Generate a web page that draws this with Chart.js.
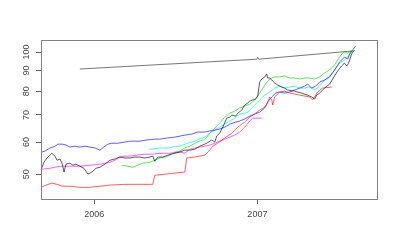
<!DOCTYPE html>
<html><head><meta charset="utf-8">
<script src="https://cdn.jsdelivr.net/npm/chart.js@4/dist/chart.umd.min.js"></script>
<style>html,body{margin:0;padding:0;background:#fff}</style>
</head><body>
<canvas id="c" width="400" height="250"></canvas>
<script>
// tick values
const xTicks = [2006, 2007];
const yTicks = [50, 60, 70, 80, 90, 100];

// series (dates in decimal years, values on a log scale)
const grayT = [2005.912, 2006.831, 2006.996, 2007.002, 2007.008, 2007.583];
const grayV = [90.8, 95.2, 96.0, 97.0, 96.0, 100.6];

const blackT = [2005.674,2005.692,2005.711,2005.729,2005.741,2005.760,2005.772,2005.790,2005.803,2005.815,2005.827,2005.851,2005.870,2005.888,2005.913,2005.937,2005.962,2005.986,2006.010,2006.035,2006.065,2006.096,2006.127,2006.157,2006.188,2006.218,2006.249,2006.280,2006.310,2006.341,2006.359,2006.371,2006.390,2006.420,2006.451,2006.494,2006.525,2006.555,2006.586,2006.616,2006.647,2006.690,2006.720,2006.739,2006.751,2006.769,2006.794,2006.812,2006.831,2006.843,2006.867,2006.880,2006.904,2006.922,2006.941,2006.953,2006.971,2006.990,2007.002,2007.014,2007.026,2007.045,2007.057,2007.063,2007.075,2007.088,2007.106,2007.124,2007.149,2007.167,2007.186,2007.228,2007.271,2007.308,2007.332,2007.351,2007.363,2007.381,2007.412,2007.443,2007.473,2007.492,2007.516,2007.534,2007.547,2007.559,2007.577,2007.595];
const blackV = [51.2,53.5,54.8,55.7,56.3,55.4,54.1,54.5,53.2,50.6,52.9,53.2,52.6,52.9,52.3,51.7,50.0,50.6,51.7,52.0,52.9,54.1,54.5,55.1,54.8,54.8,55.1,55.1,54.8,55.1,55.4,53.8,55.1,55.1,55.7,56.3,56.7,57.3,57.3,57.6,58.6,59.6,60.7,60.0,62.1,63.1,66.1,68.7,69.1,69.9,69.5,70.7,71.9,74.0,74.9,75.7,76.2,76.6,77.9,84.3,85.8,86.8,88.3,86.3,86.3,85.3,83.9,82.9,82.0,81.5,80.6,80.1,79.2,78.3,77.5,76.6,78.3,79.2,81.5,83.4,87.3,89.8,92.4,93.9,92.4,93.9,98.9,101.1];

const redT = [2005.674,2005.705,2005.741,2005.772,2005.803,2005.851,2005.913,2005.974,2006.035,2006.096,2006.188,2006.280,2006.359,2006.371,2006.433,2006.494,2006.555,2006.567,2006.616,2006.647,2006.678,2006.708,2006.727,2006.757,2006.800,2006.843,2006.880,2006.922,2006.953,2006.983,2007.014,2007.045,2007.063,2007.075,2007.088,2007.094,2007.106,2007.137,2007.167,2007.198,2007.228,2007.259,2007.289,2007.320,2007.338,2007.357,2007.369,2007.400,2007.455];
const redV = [46.4,47.0,47.5,47.2,46.7,46.7,46.4,46.4,46.7,47.0,47.2,47.2,47.2,49.7,50.0,50.3,50.6,54.8,55.1,55.4,55.7,57.3,58.6,59.6,61.4,63.1,65.3,67.2,69.1,70.3,71.9,73.2,74.9,77.5,76.2,74.0,77.5,79.7,80.1,79.2,78.8,78.3,77.9,77.5,76.2,78.3,79.7,81.5,82.0];

const greenT = [2006.170,2006.206,2006.237,2006.267,2006.298,2006.341,2006.371,2006.402,2006.433,2006.463,2006.494,2006.525,2006.555,2006.586,2006.616,2006.647,2006.678,2006.696,2006.720,2006.739,2006.769,2006.800,2006.831,2006.861,2006.892,2006.922,2006.953,2006.983,2007.002,2007.026,2007.045,2007.075,2007.106,2007.137,2007.167,2007.198,2007.228,2007.259,2007.289,2007.320,2007.351,2007.381,2007.412,2007.443,2007.473,2007.504,2007.522,2007.534,2007.553,2007.565,2007.583];
const greenV = [52.6,52.3,52.0,52.6,53.2,53.5,54.1,54.8,55.1,55.7,56.7,57.0,58.0,58.6,59.6,60.3,61.0,62.1,63.9,64.9,66.8,69.1,70.7,71.5,72.8,73.6,74.4,76.2,77.9,80.6,82.9,85.8,86.8,86.8,87.3,86.3,86.3,85.8,86.3,86.3,85.8,86.8,88.8,90.3,92.9,97.2,99.4,100.0,99.4,100.0,100.6];

const blueT = [2005.680,2005.698,2005.729,2005.760,2005.778,2005.803,2005.827,2005.851,2005.882,2005.913,2005.943,2005.974,2006.004,2006.035,2006.059,2006.084,2006.108,2006.145,2006.188,2006.218,2006.280,2006.322,2006.371,2006.402,2006.451,2006.494,2006.555,2006.598,2006.634,2006.678,2006.708,2006.739,2006.769,2006.800,2006.831,2006.867,2006.892,2006.922,2006.953,2006.983,2007.014,2007.045,2007.063,2007.088,2007.112,2007.137,2007.167,2007.198,2007.228,2007.259,2007.289,2007.308,2007.332,2007.357,2007.381,2007.412,2007.443,2007.473,2007.504,2007.534,2007.553,2007.565,2007.583,2007.602];
const blueV = [56.7,57.0,58.0,58.6,59.3,59.3,59.0,58.3,58.6,58.3,58.6,58.3,58.0,57.3,58.3,59.3,59.6,59.6,60.0,60.3,60.3,60.7,61.0,61.0,61.4,61.7,62.4,62.8,63.5,63.5,63.9,64.2,64.6,65.3,66.4,67.2,67.6,68.4,69.5,70.3,71.1,72.8,75.3,77.5,79.2,79.7,79.2,79.7,80.6,81.5,82.4,83.4,81.5,82.4,84.3,85.3,86.8,90.3,94.5,97.2,96.1,98.9,101.1,103.5];

const cyanT = [2006.335,2006.402,2006.463,2006.494,2006.525,2006.573,2006.616,2006.659,2006.678,2006.708,2006.739,2006.769,2006.800,2006.831,2006.861,2006.892,2006.922,2006.941,2006.965,2006.983,2007.014,2007.045,2007.075,2007.106,2007.137,2007.167,2007.198,2007.228,2007.259,2007.289,2007.320,2007.351,2007.381,2007.412,2007.443,2007.473,2007.504,2007.534,2007.553,2007.577,2007.595];
const cyanV = [57.6,58.0,58.0,58.6,58.6,59.6,60.3,61.4,61.7,63.1,64.2,65.3,66.4,67.6,68.7,70.3,70.7,71.1,72.8,74.0,76.2,78.3,79.7,81.5,82.4,81.5,82.0,82.4,81.5,81.5,82.0,80.6,82.4,85.3,87.3,90.3,93.9,95.6,97.2,100.0,101.1];

const magentaT = [2005.674,2005.729,2005.790,2005.851,2005.913,2005.974,2006.035,2006.096,2006.127,2006.157,2006.188,2006.218,2006.261,2006.310,2006.359,2006.402,2006.463,2006.525,2006.555,2006.586,2006.616,2006.647,2006.678,2006.708,2006.739,2006.769,2006.800,2006.831,2006.861,2006.892,2006.922,2006.953,2006.971,2007.026];
const magentaV = [51.4,51.7,52.3,52.3,52.3,52.6,52.9,53.5,54.1,55.1,55.4,55.4,55.7,56.0,56.0,56.3,56.3,56.7,56.3,57.6,58.0,58.3,58.6,59.0,59.6,60.3,61.0,61.7,62.4,63.5,65.3,67.6,68.7,68.7];

function pts(t, v) { return t.map((x, i) => ({ x: x, y: v[i] })); }
function ds(t, v, color) {
  return { data: pts(t, v), borderColor: color, borderWidth: 0.9, pointRadius: 0, tension: 0, fill: false };
}

const boxPlugin = {
  id: 'box',
  afterDraw(chart) {
    const a = chart.chartArea, c = chart.ctx;
    c.save();
    c.strokeStyle = '#808080';
    c.lineWidth = 1;
    c.strokeRect(Math.round(a.left) + 0.5, Math.round(a.top) + 0.5, Math.round(a.right - a.left), Math.round(a.bottom - a.top));
    c.restore();
  }
};

const font = { family: "'Liberation Sans', Arial, sans-serif", size: 9 };

new Chart(document.getElementById('c').getContext('2d'), {
  type: 'line',
  data: {
    datasets: [
      ds(blackT, blackV, 'rgba(0,0,0,0.72)'),
      ds(grayT, grayV, 'rgba(40,40,40,0.7)'),
      ds(redT, redV, 'rgba(255,0,0,0.7)'),
      ds(greenT, greenV, 'rgba(0,205,0,0.7)'),
      ds(blueT, blueV, 'rgba(0,0,255,0.7)'),
      ds(cyanT, cyanV, 'rgba(0,230,230,0.75)'),
      ds(magentaT, magentaV, 'rgba(255,0,255,0.7)')
    ]
  },
  options: {
    responsive: false,
    animation: false,
    events: [],
    plugins: { legend: { display: false }, tooltip: { enabled: false } },
    layout: { padding: { left: 0, right: 23, top: 40, bottom: 0 } },
    scales: {
      x: {
        type: 'linear',
        min: 2005.674, max: 2007.733,
        afterBuildTicks(a) { a.ticks = xTicks.map(v => ({ value: v })); },
        afterFit(a) { a.height = 51; },
        grid: { drawOnChartArea: false, drawTicks: true, tickLength: 5, color: '#666' },
        border: { display: false },
        ticks: { font: font, color: '#444', padding: 5, maxRotation: 0, autoSkip: false, callback: v => String(v) }
      },
      y: {
        type: 'logarithmic',
        min: 43.43, max: 107.06,
        afterBuildTicks(a) { a.ticks = yTicks.map(v => ({ value: v })); },
        afterFit(a) { a.width = 41; },
        grid: { drawOnChartArea: false, drawTicks: true, tickLength: 5, color: '#666' },
        border: { display: false },
        ticks: { font: font, color: '#444', padding: 1.5, minRotation: 90, maxRotation: 90, crossAlign: 'center', autoSkip: false, callback: v => String(v) }
      }
    }
  },
  plugins: [boxPlugin]
});
</script>
</body></html>
